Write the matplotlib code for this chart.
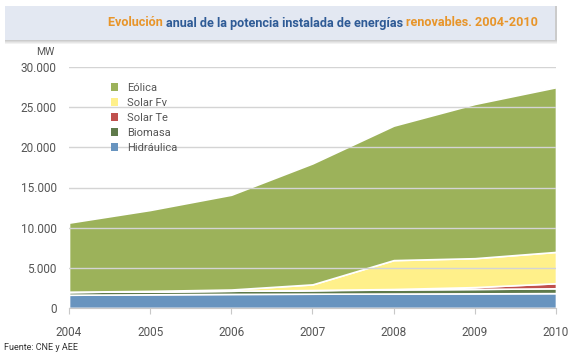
import numpy as np
import matplotlib
matplotlib.use("Agg")
import matplotlib.pyplot as plt
from matplotlib.patches import Rectangle, Patch

# --------------------------------
# DATA (MW)
# --------------------------------

years = [2004, 2005, 2006, 2007, 2008, 2009, 2010]

hidraulica = [1650, 1700, 1750, 1780, 1800, 1820, 1850]
biomasa = [350, 380, 400, 450, 500, 550, 600]
solar_te = [0, 0, 0, 10, 60, 230, 630]
solar_fv = [25, 50, 150, 700, 3600, 3600, 3900]
eolica = [8600, 10070, 11800, 15060, 16740, 19200, 20500]

names = ["Hidráulica", "Biomasa", "Solar Te", "Solar Fv", "Eólica"]
colors = ["#6894bf", "#5f7a4a", "#c0504d", "#fff08a", "#9cb25a"]

yticks = [0, 5000, 10000, 15000, 20000, 25000, 30000]
ytick_labels = ["0", "5.000", "10.000", "15.000", "20.000", "25.000", "30.000"]

FONT = ["Roboto", "DejaVu Sans"]

# --------------------------------
# FIGURE
# --------------------------------

W, H = 573, 356
fig = plt.figure(figsize=(W / 100, H / 100), dpi=100)
fig.patch.set_facecolor("white")

ax = fig.add_axes([69 / W, 1 - 308 / H, (556 - 69) / W, (308 - 67) / H])

ax.stackplot(years, hidraulica, biomasa, solar_te, solar_fv, eolica,
             colors=colors, edgecolor="white", linewidth=1.2, zorder=1)

ax.set_xlim(2004, 2010)
ax.set_ylim(0, 30000)
ax.set_xticks(years)
ax.set_yticks(yticks)
ax.set_yticklabels(ytick_labels)

ax.grid(axis="y", color="#d4d4d4", linewidth=1.0)
ax.set_axisbelow(False)
for gl in ax.get_ygridlines():
    gl.set_zorder(3)

for s in ["left", "right", "top"]:
    ax.spines[s].set_visible(False)
ax.spines["bottom"].set_color("#c8c8c8")
ax.tick_params(axis="y", length=0, pad=9, labelsize=8.5, labelcolor="#555555")
ax.tick_params(axis="x", length=4, color="#c8c8c8", pad=9, labelsize=8.5,
               labelcolor="#555555")
for lbl in ax.get_xticklabels() + ax.get_yticklabels():
    lbl.set_family(FONT)

# legend, top entry is Eólica
handles = [Patch(facecolor=c) for c in colors[::-1]]
leg = ax.legend(handles, names[::-1], loc="upper left",
                bbox_to_anchor=(0.065, 0.975), frameon=False,
                handlelength=0.7, handleheight=0.7, handletextpad=0.8,
                labelspacing=0.45, prop={"family": FONT, "size": 8})
for t in leg.get_texts():
    t.set_color("#555555")

fig.text(45 / W, 1 - 52 / H, "MW", fontsize=7.5, color="#555555",
         family=FONT, ha="center", va="center")
fig.text(4 / W, 1 - 348 / H, "Fuente: CNE y AEE", fontsize=6.5, color="#333333",
         family=FONT, ha="left", va="center")

# --------------------------------
# TITLE BANNER
# --------------------------------

for i, a in enumerate([0.10, 0.10, 0.12, 0.15]):
    sh = Rectangle((5 / W, 1 - (44 - i) / H), 552 / W, (38 - i) / H,
                   transform=fig.transFigure, facecolor="#808080", alpha=a,
                   edgecolor="none", zorder=0)
    fig.patches.append(sh)
banner = Rectangle((5 / W, 1 - 40 / H), 550 / W, 34 / H, transform=fig.transFigure,
                   facecolor="#e3e8f2", edgecolor="none", zorder=1)
fig.patches.append(banner)

orange = "#e8952a"
blue = "#2f5b96"
parts = [("Evolución ", orange), ("anual de la potencia instalada de energías ", blue),
         ("renovables. 2004-2010", orange)]

fig.canvas.draw()
renderer = fig.canvas.get_renderer()

# scale title font so the line spans the banner text area
size = 11.5
total = 0
for txt, col in parts:
    t = fig.text(0, 0, txt, fontsize=size, fontweight="bold", family=FONT)
    total += t.get_window_extent(renderer=renderer).width
    t.remove()
size = size * 430 / total

x = 108 / W
for txt, col in parts:
    t = fig.text(x, 1 - 23 / H, txt, fontsize=size, fontweight="bold", color=col,
                 family=FONT, ha="left", va="center", zorder=2)
    bb = t.get_window_extent(renderer=renderer)
    x += bb.width / W

fig.savefig("out.png", dpi=100)
